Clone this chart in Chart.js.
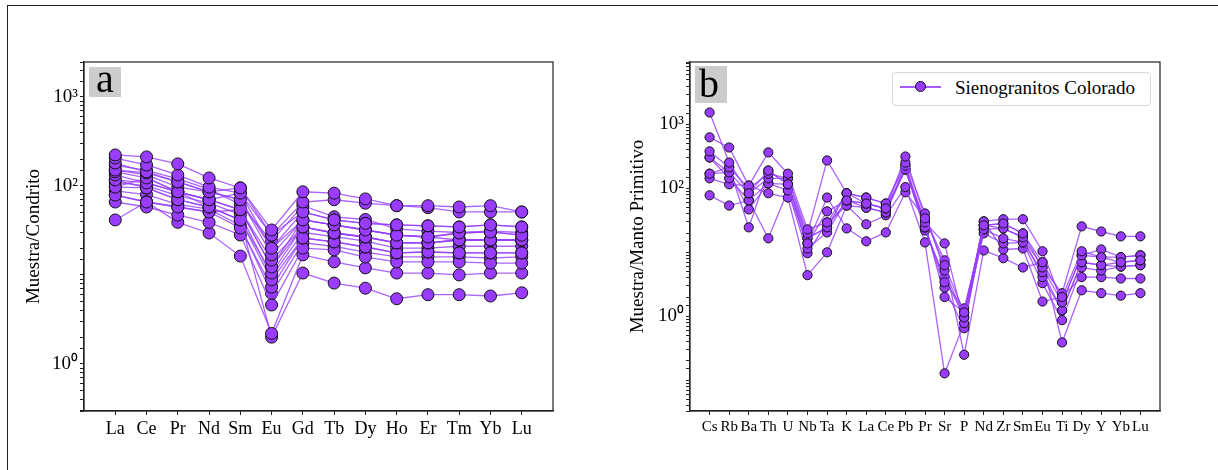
<!DOCTYPE html>
<html>
<head>
<meta charset="utf-8">
<script src="https://cdn.jsdelivr.net/npm/chart.js@4"></script>
<style>
body { margin: 0; background: #fff; width: 1218px; height: 470px; overflow: hidden; position: relative; font-family: "Liberation Serif", serif; }
#frame { position: absolute; left: 7px; top: 5px; width: 1400px; height: 700px; border-left: 1.5px solid #222; border-top: 1.5px solid #222; }
canvas { position: absolute; top: 0; }
#ca { left: 0; }
#cb { left: 600px; }
.tagbox { position: absolute; background: #cccccc; }
.tag { position: absolute; font-size: 40px; line-height: 40px; color: #000; }
#legend { position: absolute; left: 892px; top: 72px; width: 257px; height: 32px; border: 1px solid #d6d6d6; border-radius: 4px; background: #fff; }
#legend .ln { position: absolute; left: 7px; top: 13px; width: 41px; height: 1.5px; background: rgba(150,60,255,0.85); }
#legend .dot { position: absolute; left: 22px; top: 8px; width: 9px; height: 9px; border-radius: 50%; background: #9a3cff; border: 1px solid #111; }
#legend .txt { position: absolute; left: 62px; top: 5px; font-size: 19px; line-height: 19px; color: #000; white-space: nowrap; }
</style>
</head>
<body>
<div id="frame"></div>
<canvas id="ca" width="600" height="470"></canvas>
<canvas id="cb" width="618" height="470"></canvas>
<div class="tagbox" style="left:89px;top:67px;width:32px;height:30px"></div>
<div class="tag" style="left:96px;top:59px">a</div>
<div class="tagbox" style="left:695px;top:66px;width:32px;height:37px"></div>
<div class="tag" style="left:699px;top:64px">b</div>
<div id="legend"><div class="ln"></div><div class="dot"></div><div class="txt">Sienogranitos Colorado</div></div>
<script>
// REE normalised to chondrite (panel a)
const reeElements = ['La', 'Ce', 'Pr', 'Nd', 'Sm', 'Eu', 'Gd', 'Tb', 'Dy', 'Ho', 'Er', 'Tm', 'Yb', 'Lu']
const reeSamples = [
    [223, 212, 177, 123, 95, 32, 86, 83, 71.5, 60, 60, 58, 60, 51],
    [206, 172, 133, 97, 83, 28, 66, 70, 64, 60, 57, 51, 51, 51],
    [181, 144, 111, 86, 70, 20, 51, 41.5, 38, 36.5, 35.6, 34.6, 36.5, 34.6],
    [151, 140, 111, 86, 70, 16.8, 41.5, 36.5, 32, 28, 26.7, 29.6, 30.4, 28],
    [144, 123, 86, 70, 54, 14.7, 34.6, 29.6, 26.7, 22.9, 22.9, 24.7, 24.7, 24.7],
    [133, 108, 86, 70, 54, 12.3, 41.5, 36.5, 32, 28, 26.7, 24.7, 24.7, 24.7],
    [117, 95, 70, 58, 41.5, 10.5, 34.6, 29.6, 26.7, 22.9, 22.9, 24.7, 24.7, 24.7],
    [97, 95, 70, 58, 41.5, 8.8, 26, 23.5, 20.6, 17.7, 18.1, 17.7, 17.7, 17.7],
    [79, 66, 58, 51, 33.7, 7.3, 26, 23.5, 20.6, 17.7, 18.1, 17.7, 17.7, 17.7],
    [66, 58, 47, 39, 28.1, 4.6, 20, 19.1, 15.9, 14, 14, 14, 13.6, 13.6],
    [41.5, 66, 39, 29.6, 16.3, 2.2, 16.8, 14, 12, 10.5, 10.5, 10, 10.5, 10.5],
    [97, 123, 86, 58, 41.5, 2.0, 10.5, 8.1, 7.1, 5.4, 6.0, 6.0, 5.8, 6.3],
    [151, 133, 97, 86, 95, 28, 51, 41.5, 38, 36.5, 35.6, 34.6, 36.5, 34.6],
    [117, 108, 86, 70, 83, 20, 41.5, 36.5, 32, 28, 26.7, 29.6, 30.4, 28],
    [79, 66, 58, 51, 54, 12.3, 34.6, 29.6, 26.7, 22.9, 22.9, 24.7, 24.7, 24.7],
    [170, 150, 120, 92, 62, 24, 60, 45, 42, 33, 31, 30, 31, 30],
    [110, 100, 78, 64, 48, 9.6, 30, 27, 24, 20, 20, 21, 21, 21],
    [88, 80, 62, 55, 36, 6.2, 23, 21, 18, 16, 16, 16, 15.5, 16]
]

// trace elements normalised to primitive mantle (panel b)
const spiderElements = ['Cs', 'Rb', 'Ba', 'Th', 'U', 'Nb', 'Ta', 'K', 'La', 'Ce', 'Pb', 'Pr', 'Sr', 'P', 'Nd', 'Zr', 'Sm', 'Eu', 'Ti', 'Dy', 'Y', 'Yb', 'Lu']
const spiderSamples = [
    [1540, 254, 84, 190, 116, 13.8, 43.8, 65, 58, 48.6, 316, 34, 6.3, 1.15, 26.5, 28.3, 19.8, 7, 2.0, 10.4, 8.4, 7, 7.5],
    [630, 437, 111, 366, 170, 22.9, 29.4, 84, 72, 58, 254, 40.6, 5.2, 0.96, 30.5, 33, 33, 10.4, 1.65, 9, 11.1, 8.4, 9],
    [380, 213, 100, 170, 144, 19.8, 274, 84, 72, 58, 228, 29.4, 13.8, 0.78, 22.9, 23.7, 17.2, 5.8, 2.3, 25.5, 21.2, 17.8, 17.8],
    [305, 178, 84, 144, 144, 16.6, 24.6, 65, 58, 48.6, 198, 24.6, 3.4, 1.33, 22.9, 16.6, 14.3, 4.9, 1.24, 7, 6.3, 7, 7.5],
    [305, 144, 65, 120, 116, 11.5, 20.5, 65, 50, 42, 228, 24.6, 2.8, 0.65, 26.5, 23.7, 17.2, 4.1, 1.24, 7, 6.3, 6.0, 6.3],
    [170, 178, 47, 120, 93, 9.7, 29.4, 54, 50, 42, 198, 22, 4.1, 0.96, 19.8, 13.8, 14.3, 3.3, 0.87, 5.8, 5.2, 6.0, 6.3],
    [144, 116, 111, 84, 72, 4.4, 10, 54, 27.5, 38, 105, 14.3, 0.128, 0.78, 30.5, 11.1, 11.5, 1.7, 2.0, 4.1, 4.1, 3.9, 3.9],
    [78, 54, 65, 16.6, 93, 13.8, 72, 23.7, 14.9, 20.5, 87, 34, 7.5, 0.25, 10.7, 8.1, 5.8, 7, 0.39, 2.55, 2.3, 2.1, 2.3],
    [170, 213, 24.6, 190, 116, 16.6, 24.6, 84, 58, 48.6, 198, 29.4, 2.0, 1.15, 26.5, 28.3, 19.8, 5.8, 1.65, 9, 8.4, 8.4, 9]
]

const powerLabels = {0: '10⁰', 2: '10²', 3: '10³'}

const markColor = '#9a3cff'
const lineColor = 'rgba(150,60,255,0.8)'
const serif = 'Liberation Serif'

// axes box like matplotlib
const frameBox = {
    id: 'frameBox',
    afterDraw(chart) {
        const {ctx, chartArea: a} = chart
        ctx.save()
        ctx.strokeStyle = '#222'
        ctx.lineWidth = 1.2
        ctx.strokeRect(a.left, a.top, a.right - a.left, a.bottom - a.top)
        ctx.restore()
    }
}

function logLabel(v) {
    const e = Math.log10(v)
    const r = Math.round(e)
    if (Math.abs(e - r) < 1e-6 && powerLabels[r]) return powerLabels[r]
    return ''
}

function panel(id, names, samples, o) {
    const datasets = samples.map(row => ({
        data: row.map((v, i) => ({x: i, y: v})),
        showLine: true,
        borderColor: lineColor,
        borderWidth: 1.3,
        pointRadius: o.r,
        pointHoverRadius: o.r,
        pointBackgroundColor: markColor,
        pointBorderColor: '#111',
        pointBorderWidth: 1
    }))
    return new Chart(document.getElementById(id), {
        type: 'scatter',
        data: {datasets},
        options: {
            responsive: false,
            animation: false,
            events: [],
            layout: {padding: {top: 62, right: o.padRight, left: 0, bottom: 0}},
            plugins: {legend: {display: false}, tooltip: {enabled: false}},
            scales: {
                x: {
                    type: 'linear',
                    min: -1,
                    max: names.length,
                    afterBuildTicks: s => { s.ticks = names.map((n, i) => ({value: i})) },
                    afterFit: s => { s.height = 59 },
                    grid: {drawOnChartArea: false, tickLength: 4, color: '#222'},
                    border: {color: '#222', width: 1.2},
                    ticks: {
                        autoSkip: false, maxRotation: 0, padding: 3, color: '#000',
                        font: {family: serif, size: o.xFont},
                        callback: v => names[v]
                    }
                },
                y: {
                    type: 'logarithmic',
                    min: o.ymin,
                    max: o.ymax,
                    afterFit: s => { s.width = o.yWidth },
                    grid: {drawOnChartArea: false, tickLength: 4, color: '#222'},
                    border: {color: '#222', width: 1.2},
                    ticks: {
                        autoSkip: false, padding: 2, color: '#000',
                        font: {family: serif, size: 19},
                        callback: logLabel
                    },
                    title: {
                        display: true, text: o.title, color: '#000',
                        font: {family: serif, size: 19},
                        padding: {top: o.titlePad, bottom: 0}
                    }
                }
            }
        },
        plugins: [frameBox]
    })
}

panel('ca', reeElements, reeSamples, {
    r: 6, xFont: 18, ymin: 0.296, ymax: 2470, yWidth: 84, padRight: 47,
    title: 'Muestra/Condrito', titlePad: 23
})

panel('cb', spiderElements, spiderSamples, {
    r: 4.6, xFont: 15, ymin: 0.033, ymax: 9500, yWidth: 90, padRight: 58,
    title: 'Muestra/Manto Primitivo', titlePad: 27
})
</script>
</body>
</html>
